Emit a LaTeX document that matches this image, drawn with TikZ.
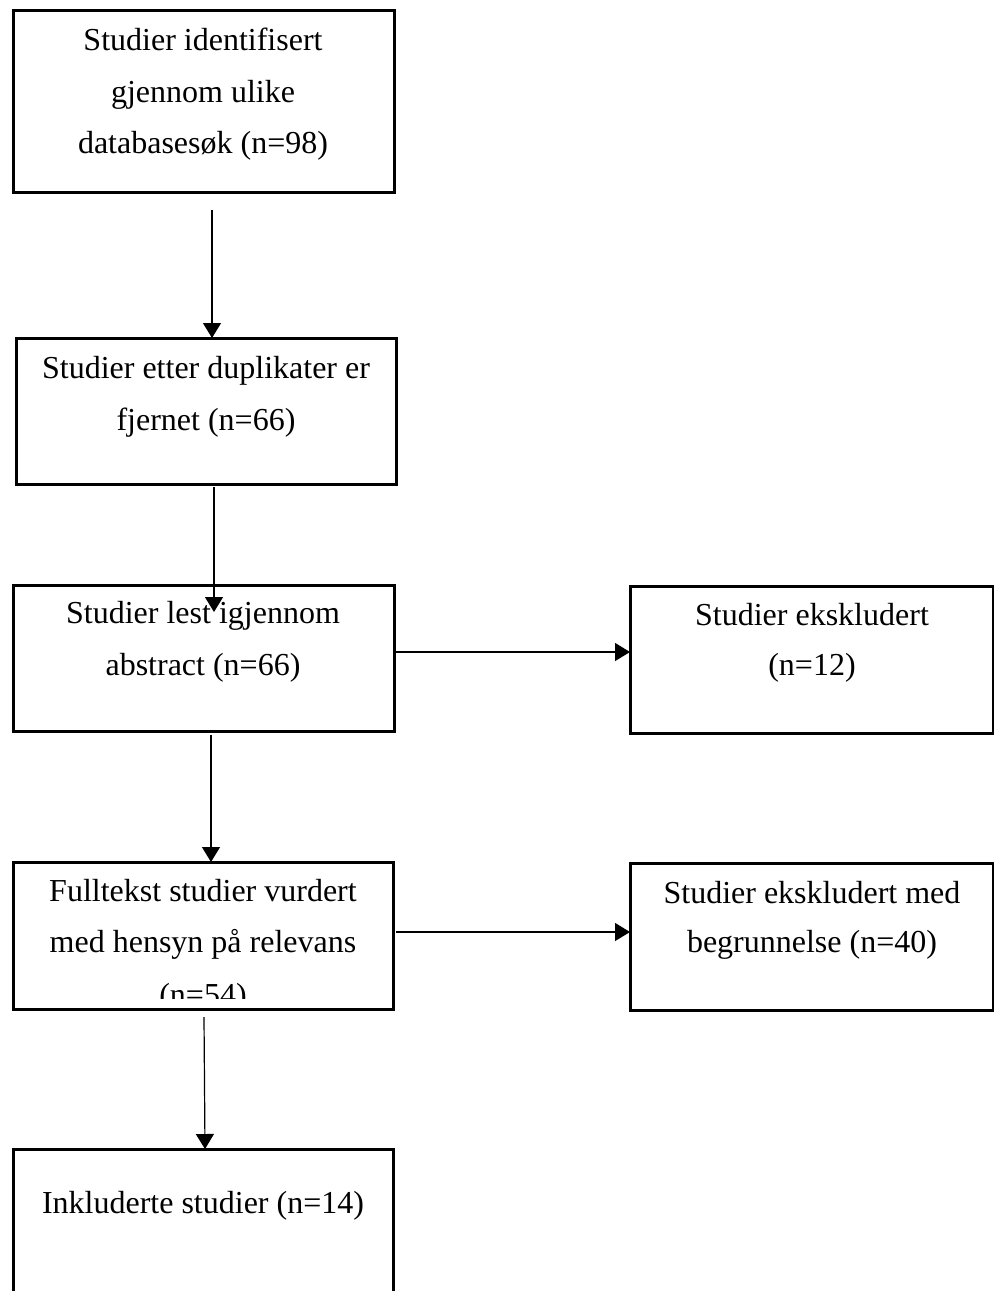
\documentclass[tikz,border=0pt]{standalone}
\usepackage{fontspec}
\setmainfont{Liberation Serif}
\usetikzlibrary{arrows.meta}
\begin{document}
\begin{tikzpicture}[x=0.5pt,y=-0.5pt,
  box/.style 2 args={draw, line width=1.5pt, rectangle, anchor=north west,
    inner sep=0pt, outer sep=0pt, minimum width=#1*0.5pt, minimum height=#2*0.5pt},
  txt/.style={anchor=base, inner sep=0pt, font=\fontsize{16pt}{26pt}\selectfont},
  arr/.style={line width=0.6pt, -{Triangle[length=7.5pt,width=9pt]}}]
\useasboundingbox (0,0) rectangle (994,1291);
% boxes
\node[box={381}{182}] (b1) at (13,10) {};
\node[box={380}{146}] (b2) at (16,338) {};
\node[box={381}{146}] (b3) at (13,585) {};
\node[box={363}{147}] (r1) at (630,586) {};
\node[box={380}{147}] (b4) at (13,862) {};
\node[box={363}{147}] (r2) at (630,863) {};
\node[box={380}{146}] (b5) at (13,1149) {};
% texts
\node[txt] (t11) at (203,50) {Studier identifisert};
\node[txt] (t12) at (203,102) {gjennom ulike};
\node[txt] (t13) at (203,153) {databasesøk (n=98)};
\node[txt] (t21) at (206,378) {Studier etter duplikater er};
\node[txt] (t22) at (206,430) {fjernet (n=66)};
\node[txt] (t31) at (203,623) {Studier lest igjennom};
\node[txt] (t32) at (203,675) {abstract (n=66)};
\node[txt] (tr11) at (812,625) {Studier ekskludert};
\node[txt] (tr12) at (812,675) {(n=12)};
\node[txt] (t41) at (203,901) {Fulltekst studier vurdert};
\node[txt] (t42) at (203,952) {med hensyn på relevans};
\begin{scope}
\clip (13,862) rectangle (393,998);
\node[txt] (t43) at (203,1005) {(n=54)};
\end{scope}
\node[txt] (tr21) at (812,903) {Studier ekskludert med};
\node[txt] (tr22) at (812,952) {begrunnelse (n=40)};
\node[txt] (t51) at (203,1213) {Inkluderte studier (n=14)};
% connector ends
\coordinate (a1s) at (212,210);
\coordinate (a2s) at (214,487);
\coordinate (a2e) at (214,612);
\coordinate (a3s) at (211,735);
\coordinate (a4s) at (204,1017);
\coordinate (a4e) at (205,1149);
\coordinate (h1s) at (396,652);
\coordinate (h2s) at (396,932);
% connectors
\draw[arr] (a1s) -- (a1s |- b2.north);
\draw[arr] (a2s) -- (a2e);
\draw[arr] (a3s) -- (a3s |- b4.north);
\draw[arr] (a4s) -- (a4e);
\draw[arr] (h1s) -- (h1s -| r1.west);
\draw[arr] (h2s) -- (h2s -| r2.west);
\end{tikzpicture}
\end{document}
